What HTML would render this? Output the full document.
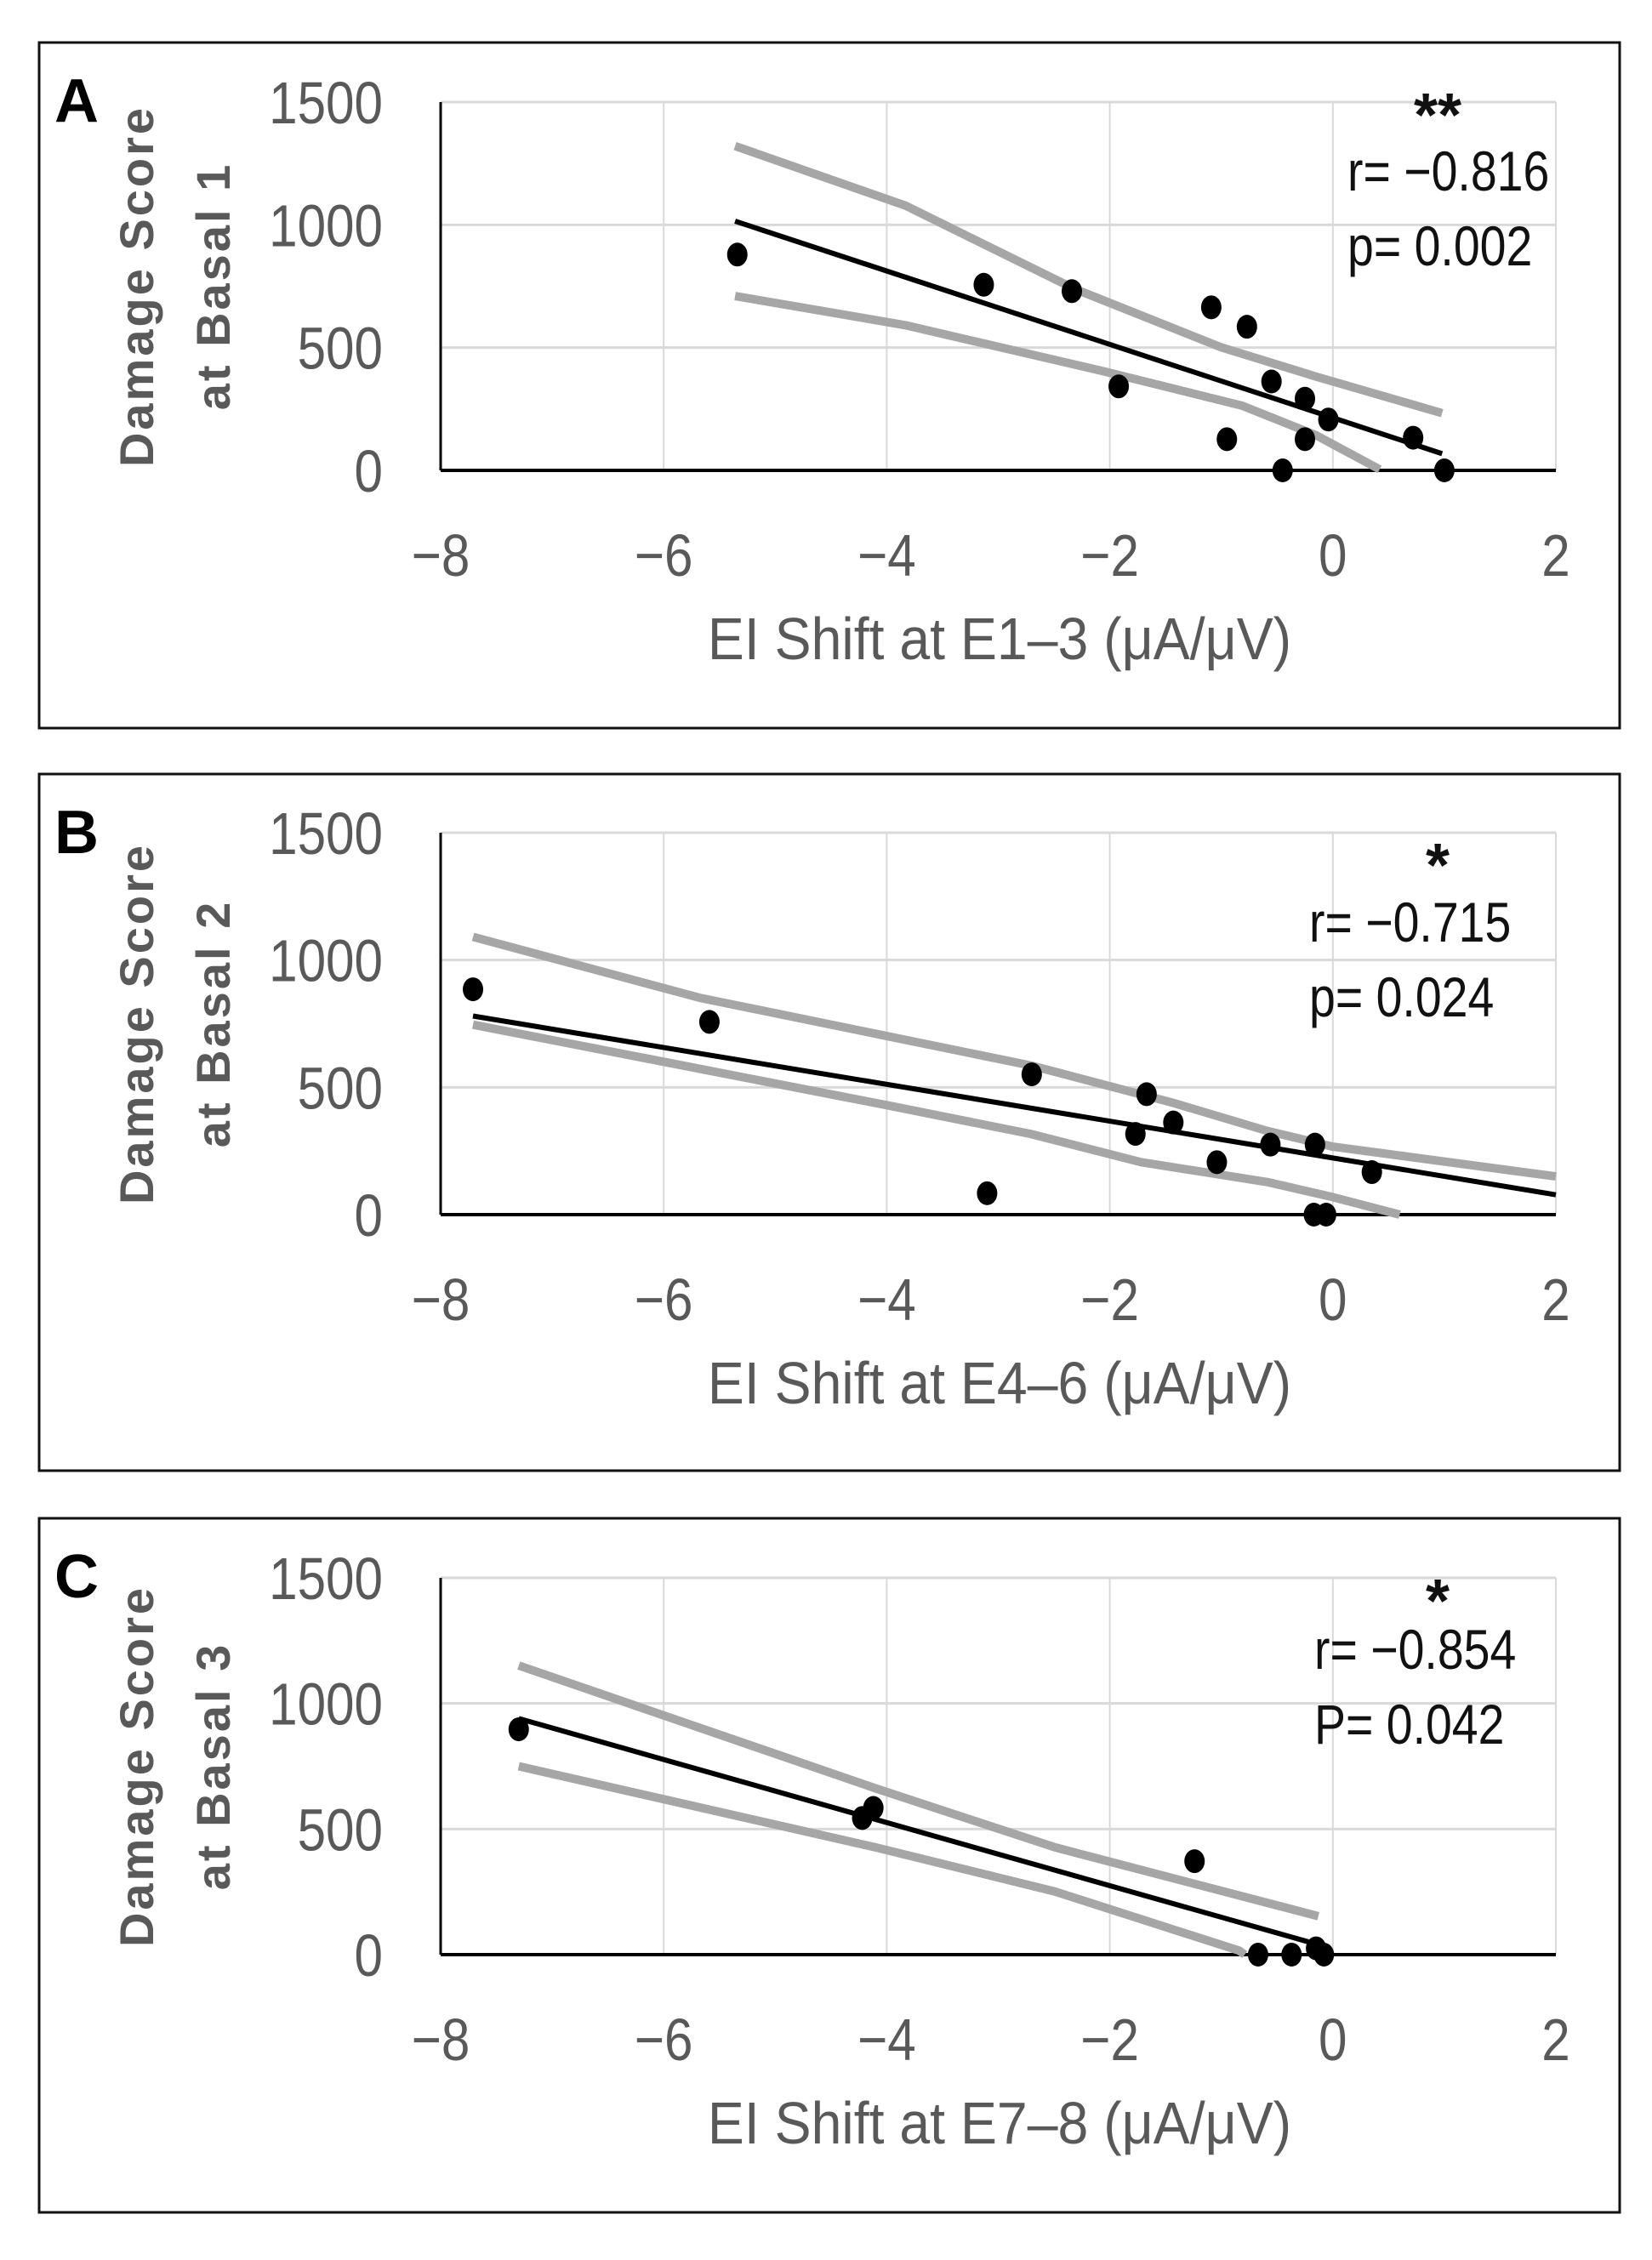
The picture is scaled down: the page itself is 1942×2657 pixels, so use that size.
<!DOCTYPE html>
<html><head><meta charset="utf-8"><style>
body{margin:0;background:#fff;}
svg{display:block;font-family:"Liberation Sans",sans-serif;}
</style></head><body>
<svg id="fig" width="1942" height="2657" viewBox="0 0 1942 2657"></svg>
<script>
// Panel A data
const xA = [-5.34,-3.13,-2.34,-1.92,-1.09,-0.77,-0.95,-0.55,-0.25,-0.25,-0.45,-0.04,0.72,1.0];
const yA = [879,756,730,342,664,585,127,362,292,127,0,207,133,0];
const fitXA = [-5.36,0.98]; const fitYA = [1015,68];
const upXA = [-5.36,-3.83,-2.32,-1.0,-0.15,0.98]; const upYA = [1321,1078,740,501,382,233];
const loXA = [-5.36,-3.83,-2.04,-0.81,-0.15,0.42]; const loYA = [710,591,402,263,143,4];
// Panel B data
const xB = [-7.71,-5.59,-3.10,-2.70,-1.67,-1.43,-1.77,-1.04,-0.56,-0.16,-0.17,-0.06,0.35];
const yB = [885,757,84,551,473,362,317,206,275,275,0,0,167];
const fitXB = [-7.71,2]; const fitYB = [780,78];
const upXB = [-7.71,-5.68,-2.7,-1.44,-0.59,0,2]; const upYB = [1091,852,585,440,329,267,150];
const loXB = [-7.71,-3.99,-2.71,-1.72,-0.59,-0.03,0.6]; const loYB = [746,429,317,206,128,72,0];
// Panel C data
const xC = [-7.30,-4.22,-4.12,-1.24,-0.67,-0.37,-0.15,-0.08];
const yC = [897,544,584,372,0,0,25,0];
const fitXC = [-7.30,-0.22]; const fitYC = [940,51];
const upXC = [-7.3,-4.1,-2.49,-0.13]; const upYC = [1151,662,427,153];
const loXC = [-7.3,-4.1,-2.49,-0.84,-0.79]; const loYC = [750,427,251,16,0];
// Axis ticks
const xTicks = [-8,-6,-4,-2,0,2];
const xTickLabels = ["\u22128","\u22126","\u22124","\u22122","0","2"];
const yTicks = [0,500,1000,1500];
const yTickLabels = ["0","500","1000","1500"];

const NS = "http://www.w3.org/2000/svg";
const svg = document.getElementById('fig');
function mk(tag, attrs, parent, text){
  const e = document.createElementNS(NS, tag);
  for (const k in attrs) e.setAttribute(k, attrs[k]);
  if (text !== undefined) e.textContent = text;
  (parent||svg).appendChild(e);
  return e;
}
function txt(x, y, sxs, attrs, parent, text){
  attrs.transform = 'translate(' + x + ',' + y + ') scale(' + sxs + ',1)';
  return mk('text', attrs, parent, text);
}
function panel(cfg){
  const g = mk('g', {});
  
  
  const box = mk('rect', {x:cfg.bx, y:cfg.by, width:cfg.bw, height:cfg.bh, fill:'none', stroke:'#111', 'stroke-width':3}, g);
  
  
  const L = 518, R = 1829, y0 = cfg.y0, y1500 = cfg.y1500;
  const sx = v => L + (v + 8) / 10 * (R - L);
  const sy = v => y0 - v / 1500 * (y0 - y1500);
  xTicks.forEach((t, i) => {
    if (i > 0) {
      const gl = mk('line', {x1:sx(t), x2:sx(t), y1:sy(1500), y2:y0, stroke:'#d9d9d9', 'stroke-width':2}, g);
      
      
    }
    const tl = txt(sx(t), y0 + 124, 0.86, {'text-anchor':'middle', 'font-size':70, fill:'#595959'}, g, xTickLabels[i]);
    
    
  });
  yTicks.forEach((t, i) => {
    if (i > 0) {
      const gl = mk('line', {x1:L, x2:R, y1:sy(t), y2:sy(t), stroke:'#d9d9d9', 'stroke-width':3}, g);
      
      
    }
    const tl = txt(450, sy(t) + 25, 0.86, {'text-anchor':'end', 'font-size':70, fill:'#595959'}, g, yTickLabels[i]);
    
    
  });
  const ya = mk('line', {x1:L, x2:L, y1:sy(1500), y2:y0, stroke:'#000', 'stroke-width':3}, g);
  
  
  const xa = mk('line', {x1:L, x2:R, y1:y0, y2:y0, stroke:'#000', 'stroke-width':4}, g);
  
  
  const pts = (xs, ys) => xs.map((v, i) => sx(v) + ',' + sy(ys[i])).join(' ');
  const up = mk('polyline', {points:pts(cfg.upX, cfg.upY), fill:'none', stroke:'#a6a6a6', 'stroke-width':10, 'stroke-linejoin':'round'}, g);
  
  
  const lo = mk('polyline', {points:pts(cfg.loX, cfg.loY), fill:'none', stroke:'#a6a6a6', 'stroke-width':10, 'stroke-linejoin':'round'}, g);
  
  
  const fit = mk('polyline', {points:pts(cfg.fitX, cfg.fitY), fill:'none', stroke:'#000', 'stroke-width':6}, g);
  
  
  cfg.xs.forEach((v, i) => {
    const c = mk('ellipse', {cx:sx(v), cy:sy(cfg.ys[i]), rx:12, ry:14, fill:'#000'}, g);
    
    
  });
  const letter = mk('text', {x:64, y:cfg.by + 93, 'font-size':72, 'font-weight':'bold', fill:'#000'}, g, cfg.id);
  
  
  const ymid = (y0 + y1500) / 2;
  const yt = mk('text', {transform:'translate(180,' + ymid + ') rotate(-90)', 'text-anchor':'middle', 'font-size':56, 'font-weight':'bold', 'letter-spacing':3, fill:'#595959'}, g, 'Damage Score');
  
  
  const yt2 = mk('text', {transform:'translate(270,' + ymid + ') rotate(-90)', 'text-anchor':'middle', 'font-size':56, 'font-weight':'bold', 'letter-spacing':3, fill:'#595959'}, g, cfg.ytitle2);
  
  
  const xt = txt(1175, y0 + 222, 0.92, {'text-anchor':'middle', 'font-size':70, fill:'#595959'}, g, cfg.xtitle);
  
  
  const st = mk('text', {x:1690, y:cfg.starY, 'text-anchor':'middle', 'font-size':72, 'font-weight':'bold', fill:'#111'}, g, cfg.star);
  
  
  const rt = txt(cfg.annX, cfg.rY, 0.84, {'font-size':66, fill:'#111'}, g, cfg.rText);
  
  
  const pt = txt(cfg.annX, cfg.rY + 88, 0.84, {'font-size':66, fill:'#111'}, g, cfg.pText);
  
  
}
panel({id:'A', bx:46, by:50, bw:1858, bh:806, y0:553, y1500:120,
  xs:xA, ys:yA, fitX:fitXA, fitY:fitYA, upX:upXA, upY:upYA, loX:loXA, loY:loYA,
  ytitle2:'at Basal 1', xtitle:'EI Shift at E1\u20133 (\u03bcA/\u03bcV)',
  star:'**', starY:160, annX:1584, rY:224, rText:'r= \u22120.816', pText:'p= 0.002'});
panel({id:'B', bx:46, by:910, bw:1858, bh:819, y0:1428, y1500:979,
  xs:xB, ys:yB, fitX:fitXB, fitY:fitYB, upX:upXB, upY:upYB, loX:loXB, loY:loYB,
  ytitle2:'at Basal 2', xtitle:'EI Shift at E4\u20136 (\u03bcA/\u03bcV)',
  star:'*', starY:1042, annX:1539, rY:1107, rText:'r= \u22120.715', pText:'p= 0.024'});
panel({id:'C', bx:46, by:1785, bw:1858, bh:816, y0:2298, y1500:1855,
  xs:xC, ys:yC, fitX:fitXC, fitY:fitYC, upX:upXC, upY:upYC, loX:loXC, loY:loYC,
  ytitle2:'at Basal 3', xtitle:'EI Shift at E7\u20138 (\u03bcA/\u03bcV)',
  star:'*', starY:1907, annX:1545, rY:1962, rText:'r= \u22120.854', pText:'P= 0.042'});
</script>
</body></html>
